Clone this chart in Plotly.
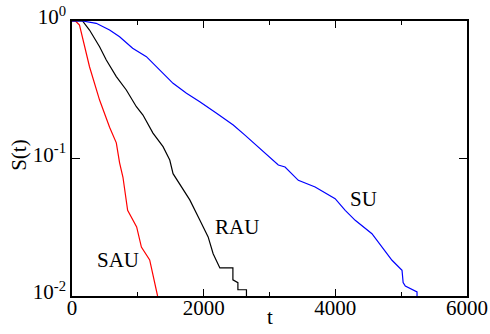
import plotly.graph_objects as go

# SAU (red)
sau_t = [0, 53, 114, 266, 419, 571, 673, 723, 774, 845, 982, 1054, 1180, 1226, 1291, 1300]
sau_s = [1.0, 1.0, 0.935, 0.465, 0.266, 0.169, 0.130, 0.093, 0.073, 0.042, 0.0318, 0.0227, 0.0183, 0.0145, 0.0102, 0.0100]

# RAU (black)
rau_t = [0, 160, 266, 419, 521, 673, 825, 978, 1078, 1230, 1383, 1485, 1535, 1663, 1789, 1941, 2068, 2144, 2246, 2444, 2444, 2520, 2520, 2650, 2650]
rau_s = [1.0, 1.0, 0.86, 0.65, 0.52, 0.394, 0.315, 0.238, 0.207, 0.153, 0.122, 0.0975, 0.0776, 0.062, 0.050, 0.0357, 0.0269, 0.0203, 0.016, 0.016, 0.0131, 0.0125, 0.0111, 0.0111, 0.0100]

# SU (blue)
su_t = [0, 160, 368, 571, 723, 921, 1130, 1332, 1535, 1739, 1941, 2196, 2449, 2627, 2829, 3134, 3236, 3438, 3693, 3997, 4150, 4302, 4556, 4708, 4861, 5013, 5030, 5063, 5241, 5241]
su_s = [1.0, 1.0, 0.962, 0.86, 0.769, 0.633, 0.55, 0.44, 0.352, 0.298, 0.259, 0.213, 0.175, 0.148, 0.122, 0.0897, 0.0867, 0.0694, 0.062, 0.051, 0.042, 0.0355, 0.0284, 0.0227, 0.0182, 0.0154, 0.0125, 0.0118, 0.0107, 0.0100]

x_ticks = [0, 2000, 4000, 6000]
x_tick_labels = ["0", "2000", "4000", "6000"]
y_ticks = [1, 0.1, 0.01]
y_tick_labels = ["10<sup>0</sup>", "10<sup>-1</sup>", "10<sup>-2</sup>"]

labels = ["SAU", "RAU", "SU"]
label_t = [700, 2505, 4424]
label_logs = [-1.738, -1.498, -1.298]

FONT = "Liberation Serif"

def fnt():
    return dict(family=FONT, size=21, color="black")

fig = go.Figure()
fig.add_trace(go.Scatter(x=sau_t, y=sau_s, mode="lines", line=dict(color="#ff0000", width=1.2)))
fig.add_trace(go.Scatter(x=rau_t, y=rau_s, mode="lines", line=dict(color="#000000", width=1.2)))
fig.add_trace(go.Scatter(x=su_t, y=su_s, mode="lines", line=dict(color="#0000ff", width=1.2)))

for txt, tx, ly in zip(labels, label_t, label_logs):
    fig.add_annotation(x=tx, y=ly, xref="x", yref="y", text=txt, showarrow=False, font=fnt())

fig.add_annotation(x=0.501, y=-0.076, xref="paper", yref="paper", text="t", showarrow=False,
                   font=fnt(), xanchor="center", yanchor="middle")
fig.add_annotation(x=-0.133, y=0.515, xref="paper", yref="paper", text="S(t)", showarrow=False,
                   textangle=-90, font=fnt(), xanchor="center", yanchor="middle")

fig.update_layout(
    width=490, height=334,
    margin=dict(l=72, r=23, t=21, b=38, autoexpand=False),
    paper_bgcolor="white", plot_bgcolor="white",
    showlegend=False,
    font=fnt(),
    xaxis=dict(range=[0, 6000], tickmode="array", tickvals=x_ticks, ticktext=x_tick_labels,
               ticks="inside", ticklen=7, tickwidth=1.2, tickcolor="black",
               ticklabelstandoff=-8,
               showline=True, linecolor="black", linewidth=1.6, mirror="ticks",
               showgrid=False, zeroline=False, automargin=False,
               minor=dict(tickmode="linear", dtick=1000, ticks="inside", ticklen=4,
                          tickwidth=1.2, tickcolor="black", showgrid=False),
               tickfont=fnt()),
    yaxis=dict(type="log", range=[-2, 0], tickmode="array", tickvals=y_ticks, ticktext=y_tick_labels,
               ticks="inside", ticklen=8, tickwidth=1.2, tickcolor="black",
               ticklabelshift=-4,
               showline=True, linecolor="black", linewidth=1.6, mirror="ticks",
               showgrid=False, zeroline=False, automargin=False,
               tickfont=fnt()),
)

fig.write_html("out.html")
